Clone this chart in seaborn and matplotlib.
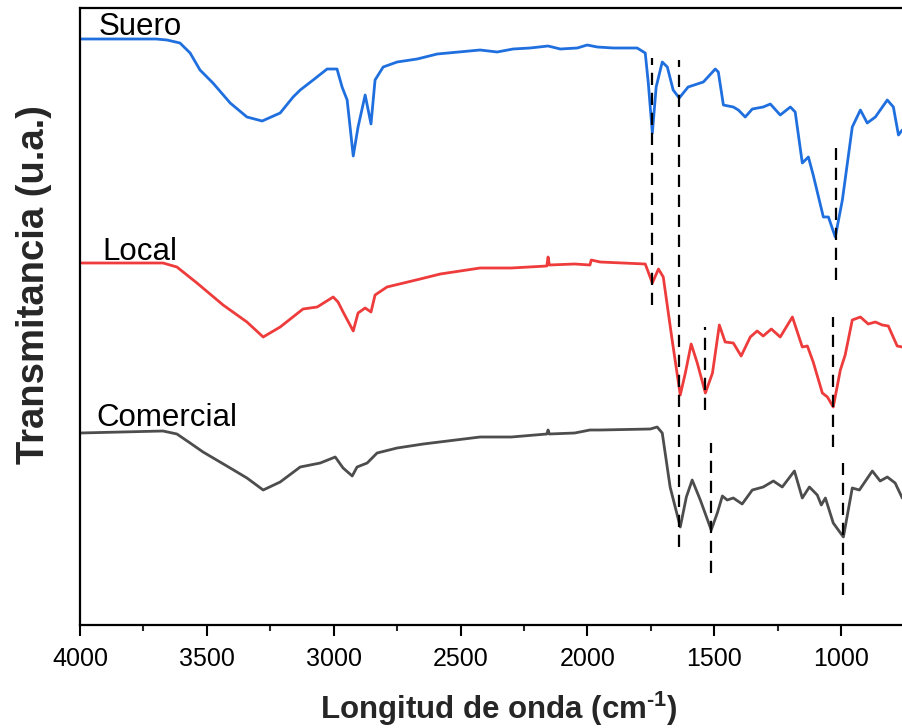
import numpy as np
import pandas as pd
import matplotlib
matplotlib.use("Agg")
import matplotlib.pyplot as plt
import seaborn as sns

# ---- data (wavenumber in cm-1, transmittance in a.u.) ----
suero_wn = [4000, 3700, 3657, 3606, 3566, 3527, 3476, 3408, 3342, 3282, 3211, 3160, 3132, 3081, 3026, 2987,
            2967, 2947, 2923, 2904, 2876, 2853, 2837, 2805, 2750, 2671, 2592, 2423, 2356, 2293, 2226,
            2155, 2107, 2040, 2001, 1961, 1898, 1804, 1772, 1760, 1744, 1729, 1705, 1685, 1662, 1638,
            1603, 1543, 1496, 1484, 1464, 1425, 1405, 1378, 1350, 1307, 1279, 1240, 1200, 1181, 1153,
            1129, 1110, 1070, 1050, 1023, 995, 956, 924, 897, 865, 818, 794, 774, 759]
suero_t = [586, 586, 585, 582, 572, 555, 542, 522, 508, 504, 512, 528, 535, 545, 556, 556,
           538, 525, 469, 498, 530, 501, 545, 558, 563, 566, 571, 575, 573, 576, 577,
           579, 576, 577, 580, 578, 577, 577, 572, 542, 492, 538, 563, 558, 535, 527,
           538, 543, 556, 553, 520, 518, 515, 508, 516, 518, 521, 510, 518, 513, 462,
           468, 450, 408, 408, 388, 425, 498, 515, 502, 508, 525, 518, 490, 495]

local_wn = [4000, 3673, 3618, 3539, 3436, 3342, 3278, 3211, 3121, 3065, 3002, 2983, 2963, 2923, 2904,
            2876, 2853, 2837, 2790, 2659, 2580, 2423, 2300, 2160, 2155, 2150, 2050, 1990, 1985, 1950,
            1772, 1744, 1720, 1701, 1666, 1634, 1614, 1591, 1567, 1535, 1507, 1480, 1457, 1425, 1394,
            1358, 1331, 1307, 1275, 1240, 1192, 1153, 1133, 1110, 1074, 1054, 1031, 1003, 984, 956,
            924, 893, 865, 838, 814, 779, 759]
local_t = [362, 362, 358, 342, 320, 303, 288, 298, 316, 318, 328, 323, 313, 294, 312,
           317, 313, 330, 338, 346, 351, 357, 357, 359, 368, 360, 361, 360, 365, 363,
           361, 342, 356, 348, 285, 230, 252, 281, 262, 232, 252, 300, 283, 282, 269,
           288, 294, 289, 296, 288, 308, 278, 279, 263, 232, 228, 218, 255, 270, 305,
           308, 301, 303, 300, 299, 279, 278]

comercial_wn = [4000, 3673, 3618, 3566, 3515, 3408, 3342, 3278, 3211, 3132, 3053, 2994, 2963, 2927, 2908,
                2868, 2829, 2750, 2647, 2423, 2300, 2160, 2155, 2150, 2050, 1990, 1950, 1752, 1725, 1705,
                1674, 1634, 1610, 1587, 1555, 1512, 1488, 1468, 1449, 1425, 1390, 1350, 1307, 1267, 1232,
                1184, 1153, 1125, 1094, 1078, 1062, 1031, 991, 956, 928, 877, 846, 818, 787, 759]
comercial_t = [192, 194, 191, 182, 173, 157, 147, 135, 143, 158, 162, 168, 157, 149, 158,
               162, 172, 177, 181, 188, 188, 191, 195, 191, 192, 195, 195, 196, 198, 192,
               138, 98, 128, 145, 125, 95, 112, 129, 125, 127, 121, 135, 138, 144, 138,
               154, 127, 138, 130, 120, 127, 102, 88, 137, 135, 154, 144, 148, 142, 127]

series_names = ["Suero", "Local", "Comercial"]
series_colors = ["#1F6FDF", "#EE3B3B", "#4D4D4D"]

# marked bands: wavenumber, lower and upper end of each dashed guide
band_wn = [1744, 1638, 1020, 1031, 1535, 1512, 991]
band_lo = [320, 78, 345, 178, 215, 52, 30]
band_hi = [567, 565, 477, 308, 298, 182, 162]

# label anchors
label_wn = [3925, 3913, 3937]
label_t = [590, 365, 199]

x_ticks = [4000, 3500, 3000, 2500, 2000, 1500, 1000]

# ---- build long table ----
frames = []
for name, wn, t in [("Suero", suero_wn, suero_t), ("Local", local_wn, local_t),
                    ("Comercial", comercial_wn, comercial_t)]:
    frames.append(pd.DataFrame({"wn": wn, "t": t, "muestra": name}))
df = pd.concat(frames, ignore_index=True)

sns.set_theme(style="ticks")
plt.rcParams["font.family"] = ["Liberation Sans", "DejaVu Sans"]
plt.rcParams["mathtext.fontset"] = "custom"
plt.rcParams["mathtext.rm"] = "Liberation Sans:bold"
plt.rcParams["mathtext.bf"] = "Liberation Sans:bold"
plt.rcParams["mathtext.default"] = "bf"

fig = plt.figure(figsize=(9.02, 7.28), dpi=100)
ax = fig.add_axes([80 / 902, 103 / 728, 822 / 902, 617 / 728])

sns.lineplot(data=df, x="wn", y="t", hue="muestra", hue_order=series_names,
             palette=series_colors, sort=False, estimator=None, linewidth=2.0,
             legend=False, ax=ax)

ax.vlines(band_wn, band_lo, band_hi, colors="black", linewidth=1.6,
          linestyles=(0, (5.5, 3.5)))

for name, x, y in zip(series_names, label_wn, label_t):
    ax.text(x, y, name, fontsize=22.5, color="black", ha="left", va="baseline")

ax.set_xlim(4000, 760)
ax.set_ylim(0, 617)
ax.set_xticks(x_ticks)
ax.set_xticklabels([str(v) for v in x_ticks])
ax.xaxis.set_minor_locator(matplotlib.ticker.MultipleLocator(250))
ax.set_yticks([])

ax.tick_params(axis="x", which="major", direction="out", length=8, width=1.5,
               labelsize=18, pad=8, colors="black")
ax.tick_params(axis="x", which="minor", direction="out", length=4.5, width=1.5)

for side in ["left", "bottom", "top"]:
    ax.spines[side].set_linewidth(1.6)
    ax.spines[side].set_color("black")
ax.spines["right"].set_visible(False)

ax.set_xlabel(r"Longitud de onda (cm$^{\text{-1}}$)", fontsize=22.5, fontweight="bold")
ax.xaxis.set_label_coords(0.51, -0.105)
ax.set_ylabel("Transmitancia (u.a.)", fontsize=27.5, fontweight="bold")
ax.yaxis.set_label_coords(-0.034, 0.551)

fig.savefig("out.png", dpi=100)
